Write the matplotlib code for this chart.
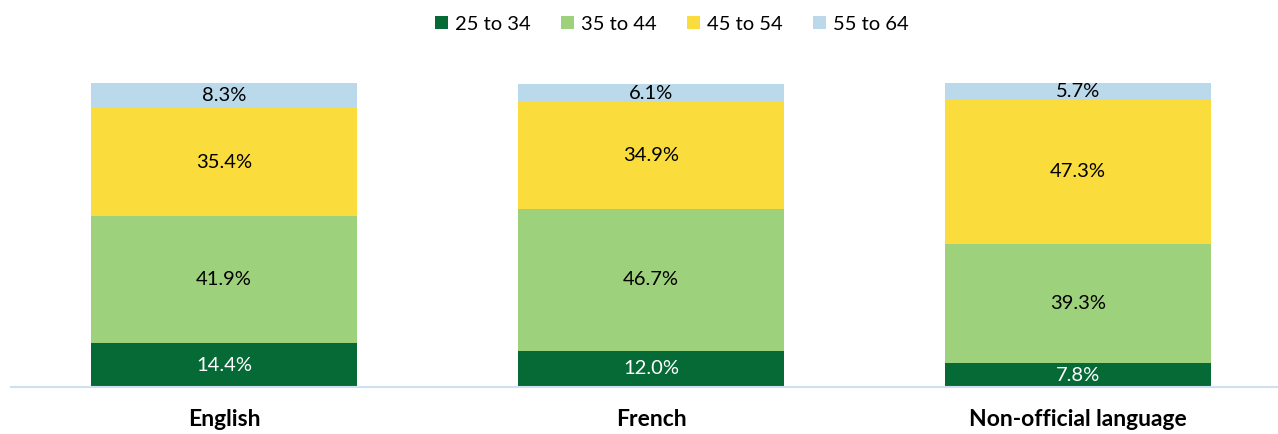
import matplotlib.pyplot as plt
import numpy as np

plt.rcParams['font.family'] = ['Lato', 'DejaVu Sans']

# data
categories = ["English", "French", "Non-official language"]
age_groups = ["25 to 34", "35 to 44", "45 to 54", "55 to 64"]
age_25_34 = [14.4, 12.0, 7.8]
age_35_44 = [41.9, 46.7, 39.3]
age_45_54 = [35.4, 34.9, 47.3]
age_55_64 = [8.3, 6.1, 5.7]

series = [age_25_34, age_35_44, age_45_54, age_55_64]
colors = ["#066a37", "#9dd17b", "#fadc3c", "#bad9ea"]
text_colors = ["white", "black", "black", "black"]

W, H = 1278, 434
fig = plt.figure(figsize=(W / 100, H / 100), dpi=100)
# axes placed in pixel terms (bars at 224, 651, 1078; baseline at y=387)
ax = fig.add_axes([10.5 / W, 47 / H, 1281 / W, 304 / H])

x = np.arange(len(categories))
bottom = np.zeros(len(categories))
for vals, col, tcol, lab in zip(series, colors, text_colors, age_groups):
    vals = np.array(vals)
    ax.bar(x, vals, width=0.623, bottom=bottom, color=col, label=lab, clip_on=False)
    for xi, b, v in zip(x, bottom, vals):
        ax.text(xi, b + v / 2, f"{v:.1f}%", ha="center", va="center",
                color=tcol, fontsize=14.5)
    bottom += vals

ax.set_xlim(-0.5, 2.5)
ax.set_ylim(0, 100)
ax.set_yticks([])
ax.set_xticks(x)
ax.set_xticklabels(categories, fontsize=16.5, fontweight="bold")
ax.tick_params(axis="x", length=0, pad=16)
for s in ["top", "right", "left"]:
    ax.spines[s].set_visible(False)
ax.spines["bottom"].set_color("#d0e0f0")
ax.spines["bottom"].set_linewidth(1.5)

fig.legend(loc="center", bbox_to_anchor=(672 / W, 1 - 24 / H), ncol=4, frameon=False,
           fontsize=14.5, handlelength=0.65, handleheight=0.65, handletextpad=0.35,
           columnspacing=1.5)

fig.savefig("out.png", dpi=100)
